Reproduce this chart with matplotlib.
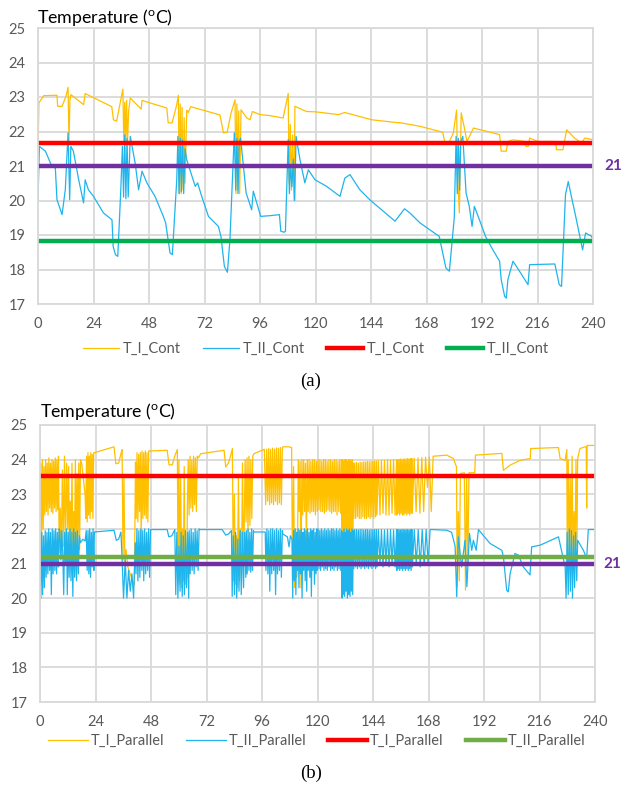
import numpy as np
import matplotlib
matplotlib.use("Agg")
import matplotlib.pyplot as plt

# ---- (a) continuous operation ----
cont_I = [(0, 21.4), (0.4, 22.83), (2.5, 23.04), (8.2, 23.05), (8.5, 22.73), (10.4, 22.73),
          (12.1, 23.02), (13.0, 23.28), (13.4, 21.7), (13.8, 22.9), (14.2, 23.07), (19.7, 22.78),
          (20.4, 23.10), (31.9, 22.72), (32.6, 22.34), (34.0, 22.30), (35.8, 22.92), (36.7, 23.23),
          (37.1, 21.70), (37.5, 22.85), (37.9, 21.65), (38.3, 22.90), (38.7, 21.70), (39.2, 22.60),
          (39.9, 22.97), (44.6, 22.65), (45.0, 22.90), (55.7, 22.68), (56.3, 22.25), (58.0, 22.25),
          (60.0, 22.78), (60.7, 23.05), (61.1, 20.2), (61.5, 22.8), (61.9, 20.2), (62.3, 22.7),
          (62.7, 20.3), (63.2, 22.4), (63.6, 20.5), (64.3, 22.62), (65.0, 22.55), (66.0, 22.72),
          (78.7, 22.48), (80.2, 21.96), (81.8, 21.98), (83.5, 22.54), (85.2, 22.92), (85.6, 20.2),
          (86.0, 22.8), (86.4, 20.3), (86.8, 22.6), (87.2, 20.2), (87.8, 22.63), (90.3, 22.39),
          (91.7, 22.34), (92.7, 22.58), (96.0, 22.49), (100.3, 22.46), (106.0, 22.39), (108.2, 23.10),
          (108.6, 20.5), (109.1, 22.2), (109.6, 20.3), (110.1, 21.9), (110.7, 20.0), (111.1, 22.73),
          (116.0, 22.58), (120.0, 22.57), (129.9, 22.49), (132.7, 22.55), (144.3, 22.34),
          (153.6, 22.27), (157.0, 22.25), (165.2, 22.15), (175.0, 21.98), (176.0, 21.67),
          (177.9, 21.71), (179.6, 21.96), (181.0, 22.62), (181.6, 20.5), (182.2, 19.64),
          (183.0, 22.54), (184.4, 22.10), (185.5, 21.71), (188.3, 22.10), (199.6, 21.91),
          (200.3, 21.43), (202.5, 21.43), (203.2, 21.71), (205.4, 21.76), (210.5, 21.71),
          (211.0, 21.57), (212.0, 21.57), (212.6, 21.81), (216.3, 21.71), (223.8, 21.71),
          (224.2, 21.47), (227.0, 21.47), (228.6, 22.05), (232.0, 21.81), (235.0, 21.67),
          (236.5, 21.81), (240.0, 21.76)]

cont_II = [(0, 20.02), (0.6, 21.57), (3.2, 21.43), (6.0, 20.99), (7.5, 20.94), (8.2, 20.02),
           (9.2, 19.83), (10.4, 19.59), (11.8, 20.31), (13.0, 21.96), (13.7, 20.02), (14.2, 21.57),
           (15.3, 21.43), (17.6, 20.60), (19.7, 19.93), (20.4, 20.60), (21.8, 20.31), (24.0, 20.12),
           (28.3, 19.64), (32.0, 19.44), (32.5, 18.67), (33.5, 18.43), (34.5, 18.38), (35.8, 20.31),
           (36.5, 21.57), (37.0, 20.10), (37.5, 21.9), (38.0, 20.05), (38.5, 21.8), (39.0, 20.10),
           (39.9, 21.86), (42.0, 21.09), (43.5, 20.31), (45.0, 20.85), (47.1, 20.51), (50.6, 20.12),
           (54.2, 19.54), (55.2, 19.35), (57.1, 18.48), (58.1, 18.43), (60.0, 20.60), (60.5, 21.86),
           (61.0, 20.2), (61.5, 21.8), (62.0, 20.25), (62.5, 21.75), (63.0, 20.2), (63.6, 21.5),
           (64.3, 21.18), (68.0, 20.41), (69.0, 20.51), (70.8, 20.12), (73.7, 19.54), (78.0, 19.25),
           (79.1, 18.96), (80.6, 18.09), (81.9, 17.92), (83.0, 18.86), (84.9, 21.96), (85.5, 20.3),
           (86.0, 21.8), (86.5, 20.2), (87.0, 21.7), (87.6, 21.81), (90.0, 20.22), (92.4, 19.73),
           (93.1, 20.27), (94.6, 19.93), (96.3, 19.54), (100.3, 19.56), (104.4, 19.59),
           (105.0, 19.11), (106.4, 19.08), (107.0, 19.11), (108.2, 21.76), (108.7, 20.2),
           (109.2, 21.0), (109.8, 20.4), (110.4, 21.2), (111.0, 20.0), (111.6, 21.86),
           (113.3, 21.18), (115.4, 20.51), (116.9, 20.89), (119.8, 20.60), (124.8, 20.41),
           (130.6, 20.12), (132.7, 20.65), (134.9, 20.75), (139.2, 20.31), (143.5, 20.02),
           (154.4, 19.40), (158.5, 19.76), (160.8, 19.64), (165.2, 19.35), (173.5, 18.96),
           (176.4, 18.04), (177.9, 17.95), (180.0, 19.5), (180.8, 21.86), (181.3, 20.2),
           (181.8, 21.8), (182.3, 20.3), (182.8, 21.7), (183.7, 21.86), (185.1, 20.22),
           (186.5, 19.83), (187.7, 19.25), (188.7, 19.83), (190.9, 19.44), (193.5, 18.96),
           (196.7, 18.57), (199.6, 18.24), (200.3, 17.71), (201.8, 17.22), (202.5, 17.17),
           (203.2, 17.71), (205.4, 18.24), (206.9, 18.09), (211.9, 17.56), (212.6, 18.14),
           (223.5, 18.16), (225.4, 17.56), (226.4, 17.51), (228.1, 20.17), (229.3, 20.55),
           (230.8, 20.07), (232.2, 19.64), (233.7, 19.15), (235.5, 18.57), (236.8, 19.06),
           (239.4, 18.96), (240.0, 18.86)]

cont_red = 21.66
cont_green = 18.83
setpoint = 21.0

# ---- (b) parallel operation: smooth points + bursts (start, end, values) ----
par_I_pts = [(18.0, 23.9), (19.5, 23.0), (23.5, 24.2), (32.0, 24.37), (32.8, 23.88), (34.0, 23.9),
             (35.0, 24.17), (35.5, 24.29), (35.9, 21.1), (36.3, 23.5), (36.7, 21.0), (37.2, 21.4),
             (38.0, 20.9), (39.0, 20.7), (40.0, 20.5), (40.8, 20.4), (41.3, 23.93),
             (47.3, 24.25), (55.0, 24.27), (55.8, 23.85), (57.2, 23.85), (58.4, 24.13), (59.4, 24.29),
             (68.5, 24.05), (69.5, 24.17), (79.6, 24.27), (80.3, 23.79), (81.5, 23.9), (82.5, 24.13),
             (83.2, 24.32), (92.5, 24.17), (97.0, 24.3), (105.2, 24.37), (107.6, 24.37),
             (108.8, 24.35), (170.3, 24.1), (175.9, 24.13), (178.8, 24.03), (179.8, 23.84),
             (180.1, 23.8), (180.4, 20.33), (180.9, 22.5), (181.3, 20.5), (181.8, 23.6),
             (183.5, 23.62), (184.0, 20.23), (184.5, 23.5), (185.0, 21.0), (185.5, 23.62),
             (188.0, 23.62), (188.3, 24.13), (199.7, 24.18), (200.4, 23.69), (203.3, 23.84),
             (207.6, 23.98), (212.0, 24.03), (212.2, 24.32), (224.2, 24.35), (224.9, 24.03),
             (227.1, 23.98), (227.8, 24.29), (232.5, 24.03), (233.5, 24.32), (235.7, 24.37),
             (236.2, 24.37), (236.4, 22.6), (236.6, 24.41), (240.0, 24.41)]

par_I_bursts = [
    (0.0, 8.0, [21.0, 23.9, 21.6, 24.0, 22.0, 23.8, 22.4, 24.0, 22.5, 23.9, 22.4, 24.05,
                22.6, 23.9, 22.5, 24.0, 22.45, 23.95, 22.6, 24.05, 22.5, 24.0, 22.55, 24.1]),
    (8.3, 11.5, [21.3, 22.6, 21.2, 23.7, 21.5, 24.1, 21.4, 23.9]),
    (12.0, 17.5, [22.0, 23.8, 21.3, 22.8, 21.5, 23.9, 21.2, 22.5, 21.4, 24.0, 21.3, 23.6,
                  21.8, 23.9, 21.4, 24.0]),
    (19.8, 23.2, [22.3, 24.1, 22.2, 24.2, 22.4, 24.1, 22.3, 24.2, 22.5, 24.15, 22.3, 24.2]),
    (41.6, 47.0, [22.3, 24.2, 22.2, 24.15, 22.5, 24.2, 21.7, 24.25, 22.3, 24.2, 22.4, 24.25,
                  22.3, 24.2, 22.2, 24.25]),
    (59.7, 63.5, [20.5, 24.0, 20.4, 23.5, 20.3, 22.0, 20.5, 23.8, 20.4, 21.5, 20.6]),
    (63.7, 68.0, [22.5, 24.0, 22.4, 24.1, 22.6, 24.0, 22.5, 24.1, 22.7, 24.05, 22.5, 24.1]),
    (83.6, 88.0, [20.5, 23.0, 20.4, 21.8, 20.3, 23.5, 20.5, 22.0, 20.6, 23.9, 21.0]),
    (88.3, 92.0, [22.0, 24.0, 22.2, 24.05, 21.9, 24.1, 22.1, 24.0, 22.3, 24.1]),
    (97.6, 104.8, [22.7, 24.3, 22.8, 24.32, 22.7, 24.3, 22.75, 24.33, 22.7, 24.3, 22.8, 24.34,
                   22.7, 24.33, 22.75, 24.35, 22.7, 24.35]),
    (109.2, 111.0, [20.5, 23.8, 20.3, 22.0, 20.6]),
    (111.3, 130.4, [21.0, 24.0, 22.5, 23.95, 20.3, 24.0, 22.4, 24.0, 22.5, 23.9, 21.5, 24.0,
                    22.5, 24.0, 22.45, 23.95, 22.5, 24.0, 22.5, 24.0, 22.4, 23.95, 22.5, 24.0,
                    22.55, 24.0, 22.5, 23.95, 22.5, 24.0, 22.45, 24.0, 22.5, 23.95, 22.55, 24.0,
                    22.5, 24.0, 22.45, 23.95, 22.5, 24.0, 22.5, 24.0, 22.4, 23.95, 22.5, 24.0,
                    22.45, 24.0]),
    (130.6, 135.5, [21.7, 24.0, 21.75, 23.95, 21.7, 24.0, 21.8, 24.0, 21.7, 23.95, 21.75, 24.0,
                    21.7, 24.0, 21.8, 23.95, 21.7, 24.0, 21.75, 23.9]),
    (135.7, 145.5, [22.3, 23.9, 22.3, 23.92, 22.35, 23.9, 22.3, 23.93, 22.3, 23.92, 22.35, 23.94,
                    22.3, 23.93, 22.3, 23.95, 22.35, 23.94, 22.3, 23.95, 22.35, 23.95, 22.3, 23.96,
                    22.35, 23.96]),
    (145.7, 154.2, [22.4, 23.97, 22.4, 23.98, 22.45, 23.98, 22.4, 24.0, 22.4, 23.99, 22.45, 24.0,
                    22.4, 24.0]),
    (154.3, 160.8, [22.4, 24.0, 22.45, 24.0, 22.4, 24.02, 22.45, 24.0, 22.4, 24.02, 22.4, 24.01,
                    22.45, 24.02, 22.4, 24.03, 22.45, 24.02, 22.4, 24.03, 22.45, 24.03]),
    (161.0, 170.0, [22.45, 24.04, 22.5, 24.05, 22.45, 24.06, 22.5, 24.07, 23.2, 24.08, 22.5, 24.1]),
    (228.0, 232.2, [21.3, 24.0, 21.0, 23.5, 21.4, 24.1, 20.9, 22.5, 21.2, 24.0, 21.5]),
]

par_II_pts = [(17.5, 21.6), (18.5, 21.7), (19.5, 21.65), (20.0, 21.95), (23.5, 21.91), (32.0, 21.96),
              (33.0, 21.67), (34.0, 21.7), (35.0, 21.91), (48.0, 21.98), (55.0, 21.98), (55.7, 21.77),
              (57.0, 21.8), (58.3, 21.98), (69.0, 21.98), (78.8, 21.98), (80.3, 21.82), (81.5, 21.85),
              (82.8, 21.95), (92.5, 21.91), (97.4, 21.91), (105.0, 21.85), (107.0, 21.77),
              (107.7, 21.48), (108.3, 21.8), (109.0, 21.7), (169.4, 21.98), (175.9, 21.96),
              (178.0, 21.9), (179.5, 21.5), (180.2, 20.04), (180.9, 21.77), (182.3, 20.90),
              (183.8, 21.67), (184.6, 20.33), (185.7, 21.87), (186.7, 21.38), (187.4, 21.67),
              (188.6, 21.38), (189.6, 21.98), (194.6, 21.58), (199.7, 21.38), (200.4, 21.19),
              (201.8, 20.23), (202.5, 20.18), (203.3, 20.71), (205.4, 21.29), (206.9, 21.24),
              (209.0, 20.9), (211.9, 20.67), (212.6, 21.48), (216.3, 21.53), (224.2, 21.77),
              (227.1, 20.90), (232.5, 21.67), (235.0, 21.38), (236.4, 21.14), (237.1, 21.98),
              (240.0, 21.98)]

par_II_bursts = [
    (0.0, 8.3, [21.9, 20.0, 21.9, 20.1, 21.8, 20.3, 21.95, 20.6, 21.9, 20.7, 22.0, 20.8, 21.9,
                20.1, 22.0, 20.7, 21.95, 20.8, 22.0, 20.7, 21.9, 20.9, 22.0]),
    (8.6, 11.5, [21.9, 21.1, 21.95, 21.3, 20.1, 21.9, 21.0, 22.0]),
    (11.8, 17.0, [20.1, 21.9, 20.6, 22.0, 20.5, 21.9, 20.05, 22.0, 20.6, 21.9, 20.5, 21.95,
                  20.7, 21.8]),
    (20.4, 23.3, [20.8, 21.95, 20.7, 22.0, 20.6, 21.9, 20.9, 22.0, 20.8]),
    (35.4, 41.2, [21.3, 20.0, 21.1, 20.0, 20.8, 20.2, 20.7, 20.0, 21.6]),
    (41.5, 47.8, [20.7, 22.0, 20.5, 21.95, 20.6, 22.0, 20.8, 21.95, 20.5, 22.0, 20.7, 21.9,
                  20.8, 22.0, 20.6, 21.98]),
    (58.7, 64.3, [20.1, 21.9, 20.0, 21.5, 20.2, 21.9, 20.05, 21.8, 20.1, 21.95, 20.3, 21.9, 20.0]),
    (64.5, 68.8, [21.95, 20.7, 22.0, 20.8, 21.9, 20.7, 22.0, 20.9, 21.95, 20.8, 22.0]),
    (83.1, 89.0, [20.05, 21.8, 20.1, 21.9, 20.0, 21.7, 20.2, 21.95, 20.1, 21.9, 20.3, 21.9, 20.6]),
    (89.2, 92.3, [21.95, 20.7, 22.0, 20.8, 21.9, 20.75, 22.0, 20.8, 21.95]),
    (97.7, 104.8, [20.8, 22.0, 20.7, 21.95, 20.2, 22.0, 20.7, 22.0, 20.8, 21.95, 20.1, 22.0,
                   20.7, 21.95, 20.8, 22.0, 20.6, 21.95]),
    (109.3, 119.7, [20.0, 21.95, 20.5, 22.0, 20.1, 21.9, 20.8, 22.0, 20.3, 21.95, 20.7, 22.0,
                    20.0, 21.9, 20.8, 22.0, 20.5, 21.95, 20.2, 22.0, 20.8, 21.9, 20.6, 22.0,
                    20.05, 21.95, 20.8, 22.0, 20.4, 21.9, 20.7, 22.0]),
    (119.9, 130.4, [20.8, 22.0, 20.85, 21.95, 20.8, 22.0, 20.9, 21.95, 20.8, 22.0, 20.85, 21.95,
                    20.8, 22.0, 20.9, 21.95, 20.8, 22.0, 20.85, 22.0, 20.8, 21.95, 20.9, 22.0,
                    20.8, 21.95, 20.85, 22.0, 20.8, 21.95]),
    (130.6, 135.5, [20.0, 21.9, 20.1, 22.0, 20.05, 21.9, 20.2, 22.0, 20.0, 21.95, 20.1, 22.0,
                    20.05, 21.9, 20.2, 22.0, 20.1, 21.95]),
    (135.7, 145.5, [20.85, 21.98, 20.9, 21.98, 20.85, 21.97, 20.9, 21.98, 20.85, 21.98, 20.9, 21.97,
                    20.85, 21.98, 20.9, 21.98, 20.85, 21.97, 20.9, 21.98, 20.85, 21.98, 20.9, 21.98,
                    20.85, 21.98]),
    (145.7, 154.2, [20.9, 21.98, 20.95, 21.98, 20.9, 21.97, 20.95, 21.98, 20.9, 21.98, 20.95, 21.97,
                    20.9, 21.98]),
    (154.3, 160.8, [20.8, 21.98, 20.85, 21.98, 20.8, 21.97, 20.85, 21.98, 20.8, 21.98, 20.85, 21.97,
                    20.8, 21.98, 20.85, 21.98, 20.8, 21.97, 20.85, 21.98, 20.8, 21.98]),
    (161.0, 168.7, [20.9, 21.98, 21.0, 21.98, 20.9, 21.98, 20.95, 21.98, 21.0, 21.98]),
    (227.5, 232.1, [20.0, 21.9, 20.1, 22.0, 20.2, 21.95, 20.0, 21.8, 20.3, 21.9, 20.5]),
]

par_red = 23.53
par_green = 21.19

YELLOW = '#FFC000'
BLUE = '#1FB4EC'
RED = '#FF0000'
PURPLE = '#7030A0'
GRID = '#D9D9D9'
TICK = '#595959'
FONT = 'Lato'


def merge(points, bursts=()):
    t = [p[0] for p in points]
    y = [p[1] for p in points]
    for t0, t1, vals in bursts:
        t += list(np.linspace(t0, t1, len(vals)))
        y += list(vals)
    order = np.argsort(t, kind='stable')
    return np.array(t)[order], np.array(y)[order]


def style_axes(ax):
    ax.set_xlim(0, 240)
    ax.set_ylim(17, 25)
    ax.set_xticks(np.arange(0, 241, 24))
    ax.set_yticks(np.arange(17, 26, 1))
    ax.grid(True, color=GRID, linewidth=1.3)
    ax.set_axisbelow(True)
    for s in ax.spines.values():
        s.set_color(GRID)
        s.set_linewidth(1.3)
    ax.tick_params(length=0, labelsize=10.5, labelcolor=TICK, pad=9)
    for lab in ax.get_xticklabels() + ax.get_yticklabels():
        lab.set_fontfamily(FONT)


fig = plt.figure(figsize=(6.22, 7.89), dpi=100)
W, H = 622, 789

# top chart
ax1 = fig.add_axes([38 / W, 1 - 304 / H, 555 / W, 276 / H])
style_axes(ax1)
t, y = merge(cont_I)
l1, = ax1.plot(t, y, color=YELLOW, lw=0.9, label='T_I_Cont')
t, y = merge(cont_II)
l2, = ax1.plot(t, y, color=BLUE, lw=0.9, label='T_II_Cont')
l3 = ax1.axhline(cont_red, color=RED, lw=3.2, label='T_I_Cont')
l4 = ax1.axhline(cont_green, color='#00B050', lw=3.2, label='T_II_Cont')
ax1.axhline(setpoint, color=PURPLE, lw=3.2)
ax1.annotate('21', xy=(1, setpoint), xycoords=('axes fraction', 'data'), xytext=(8, 0),
             textcoords='offset points', ha='left', va='center', color=PURPLE,
             fontsize=11, fontweight='bold', fontfamily=FONT, annotation_clip=False)
fig.text(37 / W, 1 - 17 / H, r'Temperature ($\mathregular{^o}$C)', fontsize=12.8,
         fontfamily=FONT, va='center', ha='left')
fig.legend(handles=[l1, l2, l3, l4], loc='center', bbox_to_anchor=(316 / W, 1 - 349 / H),
           ncol=4, frameon=False, handlelength=2.5, handletextpad=0.25, columnspacing=1.5,
           prop={'family': FONT, 'size': 10.5}, labelcolor=TICK)
fig.text(0.5, 1 - 381 / H, '(a)', fontsize=13.5, fontfamily='Liberation Serif',
         ha='center', va='center')

# bottom chart
ax2 = fig.add_axes([40 / W, 1 - 702 / H, 555 / W, 277 / H])
style_axes(ax2)
t, y = merge(par_I_pts, par_I_bursts)
m1, = ax2.plot(t, y, color=YELLOW, lw=0.9, label='T_I_Parallel')
t, y = merge(par_II_pts, par_II_bursts)
m2, = ax2.plot(t, y, color=BLUE, lw=0.9, label='T_II_Parallel')
m3 = ax2.axhline(par_red, color=RED, lw=3.2, label='T_I_Parallel')
m4 = ax2.axhline(par_green, color='#70AD47', lw=3.2, label='T_II_Parallel')
ax2.axhline(setpoint, color=PURPLE, lw=3.2)
ax2.annotate('21', xy=(1, setpoint), xycoords=('axes fraction', 'data'), xytext=(6, 0),
             textcoords='offset points', ha='left', va='center', color=PURPLE,
             fontsize=11, fontweight='bold', fontfamily=FONT, annotation_clip=False)
fig.text(40 / W, 1 - 412 / H, r'Temperature ($\mathregular{^o}$C)', fontsize=12.8,
         fontfamily=FONT, va='center', ha='left')
fig.legend(handles=[m1, m2, m3, m4], loc='center', bbox_to_anchor=(317 / W, 1 - 741 / H),
           ncol=4, frameon=False, handlelength=2.7, handletextpad=0.2, columnspacing=1.5,
           prop={'family': FONT, 'size': 10.5}, labelcolor=TICK)
fig.text(0.5, 1 - 773 / H, '(b)', fontsize=13.5, fontfamily='Liberation Serif',
         ha='center', va='center')

fig.savefig('out.png', dpi=100)
